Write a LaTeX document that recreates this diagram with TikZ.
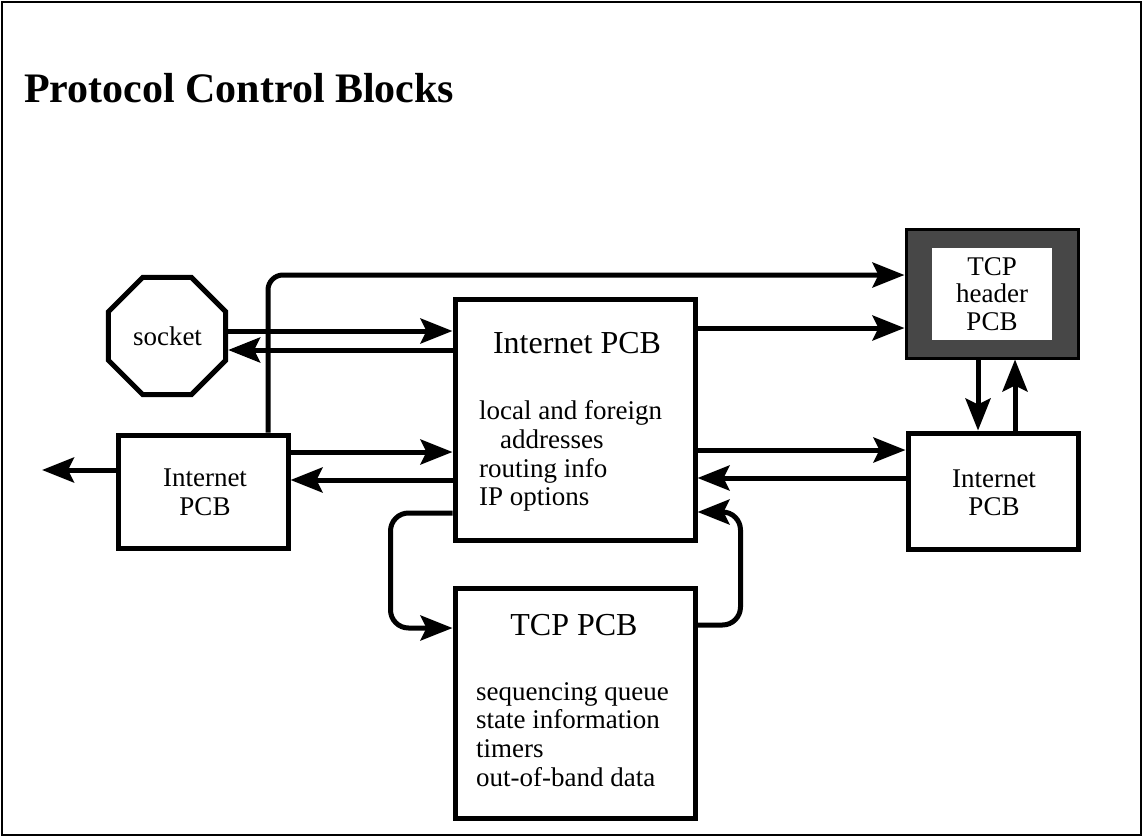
\documentclass[tikz,border=0pt]{standalone}
\usepackage{fontspec}
\setmainfont{Liberation Serif}
\usetikzlibrary{positioning,arrows.meta,shapes.geometric}

\begin{document}
\begin{tikzpicture}[
    x=1pt, y=-1pt,
    blk/.style={draw, line width=5pt, inner sep=0pt},
    head/.style={font=\fontsize{32}{36}\selectfont, inner sep=0pt, anchor=base},
    txt/.style={font=\fontsize{27}{30}\selectfont, inner sep=0pt, anchor=base west},
    lbl/.style={font=\fontsize{27}{30}\selectfont, inner sep=0pt, anchor=base},
    arr/.style={-{Stealth[length=32pt, width=25pt, inset=6pt]}, line width=5pt},
  ]
  \useasboundingbox (0,0) rectangle (1143,837);
  \draw[line width=1.5pt] (2,2) rectangle (1141,835);
  \node[font=\fontsize{42}{48}\selectfont\bfseries, anchor=base west, inner sep=0pt]
    (title) at (24,103) {Protocol Control Blocks};

  % blocks
  \node[blk, minimum width=240pt, minimum height=241pt] (ipcb) at (575,419.5) {};
  \node[blk, minimum width=240pt, minimum height=230pt] (tpcb) at (575,703) {};
  \node[blk, minimum width=170pt, minimum height=113pt] (lpcb) at (203,491.5) {};
  \node[blk, minimum width=170pt, minimum height=116pt] (rpcb) at (993,491) {};
  \node[draw, line width=3pt, fill=black!72, inner sep=0pt,
        minimum width=172pt, minimum height=128pt] (hdr) at (992,294) {};
  \node[fill=white, inner sep=0pt, minimum width=120pt, minimum height=92pt]
    (hdrin) at (hdr) {};
  \node[draw, line width=5pt, regular polygon, regular polygon sides=8,
        inner sep=0pt, minimum size=127pt] (sock) at (167,336) {};

  % texts
  \node[lbl] (sockt) at (167.5,345) {socket};
  \node[lbl] (hdr1) at (992,275) {TCP};
  \node[lbl] (hdr2) at (992,302) {header};
  \node[lbl] (hdr3) at (992,330) {PCB};
  \node[lbl] (lp1) at (205,486) {Internet};
  \node[lbl] (lp2) at (205,515) {PCB};
  \node[lbl] (rp1) at (994,487) {Internet};
  \node[lbl] (rp2) at (994,515) {PCB};
  \node[head] (iph) at (577,353) {Internet PCB};
  \node[txt] (ip1) at (479,419) {local and foreign};
  \node[txt] (ip2) at (500,448) {addresses};
  \node[txt] (ip3) at (479,477) {routing info};
  \node[txt] (ip4) at (479,505) {IP options};
  \node[head] (tph) at (574,635) {TCP PCB};
  \node[txt] (tp1) at (476,700) {sequencing queue};
  \node[txt] (tp2) at (476,728) {state information};
  \node[txt] (tp3) at (476,757) {timers};
  \node[txt] (tp4) at (476,786) {out-of-band data};

  % connectors
  \draw[arr, rounded corners=15pt] ([xshift=65pt]lpcb.north) |- (hdr.west |- 0,275);
  \draw[arr] (sock.east |- 0,331) -- (ipcb.west |- 0,331);
  \draw[arr] (ipcb.west |- 0,350) -- (sock.east |- 0,350);
  \draw[arr] (ipcb.east |- 0,328) -- (hdr.west |- 0,328);
  \draw[arr] (hdr.south -| 978,0) -- (rpcb.north -| 978,0);
  \draw[arr] (rpcb.north -| 1015,0) -- (hdr.south -| 1015,0);
  \draw[arr] (lpcb.east |- 0,452) -- (ipcb.west |- 0,452);
  \draw[arr] (ipcb.west |- 0,480) -- (lpcb.east |- 0,480);
  \coordinate (out) at (42,470);
  \draw[arr] (lpcb.west |- out) -- (out);
  \draw[arr] (ipcb.east |- 0,450) -- (rpcb.west |- 0,450);
  \draw[arr] (rpcb.west |- 0,478) -- (ipcb.east |- 0,478);
  \draw[arr, rounded corners=18pt] (ipcb.west |- 0,513) -- ++(-62,0) |- (tpcb.west |- 0,628);
  \draw[arr, rounded corners=18pt] (tpcb.east |- 0,625) -- ++(43,0) |- (ipcb.east |- 0,512);
\end{tikzpicture}
\end{document}
